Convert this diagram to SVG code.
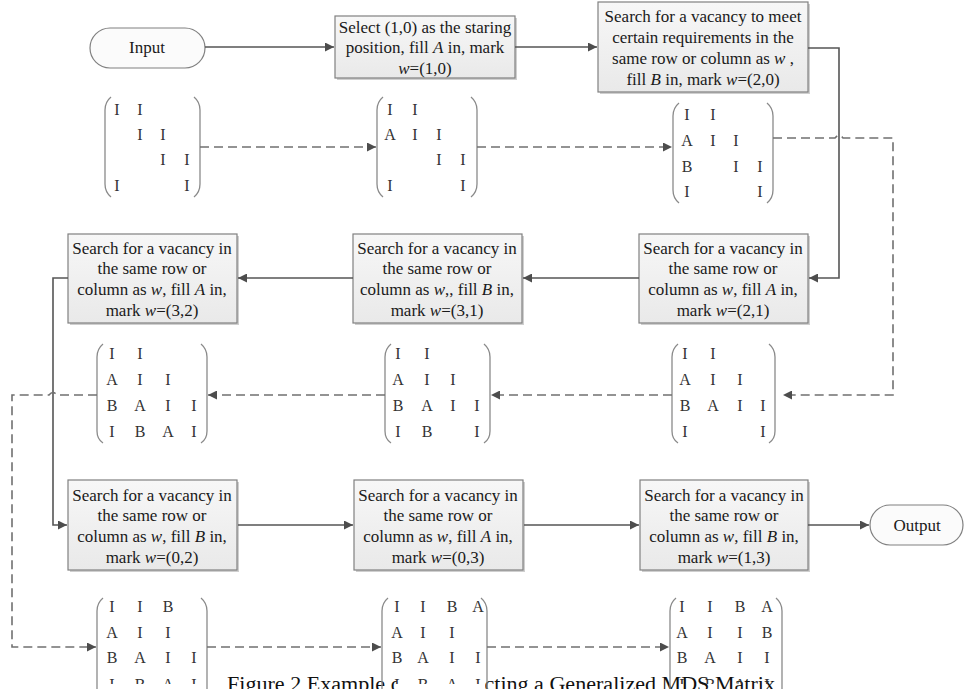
<svg xmlns="http://www.w3.org/2000/svg" width="966" height="689" viewBox="0 0 966 689">
<defs>
<linearGradient id="boxfill" x1="0" y1="0" x2="0" y2="1">
<stop offset="0" stop-color="#f7f7f7"/><stop offset="1" stop-color="#e9e9e9"/>
</linearGradient>
<marker id="arr" viewBox="0 0 10 10" refX="10" refY="5" markerWidth="11" markerHeight="9" markerUnits="userSpaceOnUse" orient="auto">
<path d="M0,0 L10,5 L0,10 z" fill="#4d4d4d"/>
</marker>
<marker id="arrd" viewBox="0 0 10 10" refX="10" refY="5" markerWidth="11" markerHeight="9" markerUnits="userSpaceOnUse" orient="auto">
<path d="M0,0 L10,5 L0,10 z" fill="#4d4d4d"/>
</marker>
<clipPath id="cut"><rect x="0" y="0" width="966" height="684"/></clipPath>
</defs>
<style>
.box{fill:url(#boxfill);stroke:#808080;stroke-width:1.2}
.shadow{fill:#cfcfcf}
.term{fill:#fbfbfb;stroke:#808080;stroke-width:1.2}
.t{font-family:"Liberation Serif","Times New Roman",serif;font-size:17px;fill:#1a1a1a;text-anchor:middle}
.m{font-family:"Liberation Serif","Times New Roman",serif;font-size:16px;fill:#333;text-anchor:middle}
.br{fill:none;stroke:#8a8a8a;stroke-width:1.3}
.solid{fill:none;stroke:#555;stroke-width:1.6}
.dash{fill:none;stroke:#707070;stroke-width:1.6;stroke-dasharray:9,5}
.i{font-style:italic}
.cap{font-family:"Liberation Serif","Times New Roman",serif;font-size:20px;fill:#111}
</style>
<rect width="966" height="689" fill="#fff"/>

<g id="input">
<rect class="term" x="90" y="28" width="115" height="40" rx="20"/>
<text class="t" x="147" y="53">Input</text>
</g>

<g id="step1">
<rect class="shadow" x="337" y="18" width="180" height="62"/>
<rect class="box" x="335" y="16" width="180" height="62"/>
<text class="t" x="425" y="33">Select (1,0) as the staring</text>
<text class="t" x="425" y="53">position, fill <tspan class="i">A</tspan> in, mark</text>
<text class="t" x="425" y="74"><tspan class="i">w</tspan>=(1,0)</text>
</g>

<g id="step2">
<rect class="shadow" x="600" y="4" width="210" height="90"/>
<rect class="box" x="598" y="2" width="210" height="90"/>
<text class="t" x="703" y="22">Search for a vacancy to meet</text>
<text class="t" x="703" y="43">certain requirements in the</text>
<text class="t" x="703" y="64">same row or column as <tspan class="i">w</tspan> ,</text>
<text class="t" x="703" y="85">fill <tspan class="i">B</tspan> in, mark <tspan class="i">w</tspan>=(2,0)</text>
</g>

<g id="step21">
<rect class="shadow" x="641" y="236" width="169" height="89"/>
<rect class="box" x="639" y="234" width="169" height="89"/>
<text class="t" x="723" y="254">Search for a vacancy in</text>
<text class="t" x="723" y="274">the same row or</text>
<text class="t" x="723" y="295">column as <tspan class="i">w</tspan>, fill <tspan class="i">A</tspan> in,</text>
<text class="t" x="723" y="316">mark <tspan class="i">w</tspan>=(2,1)</text>
</g>

<g id="step31">
<rect class="shadow" x="355" y="236" width="169" height="89"/>
<rect class="box" x="353" y="234" width="169" height="89"/>
<text class="t" x="437" y="254">Search for a vacancy in</text>
<text class="t" x="437" y="274">the same row or</text>
<text class="t" x="437" y="295">column as <tspan class="i">w</tspan>,, fill <tspan class="i">B</tspan> in,</text>
<text class="t" x="437" y="316">mark <tspan class="i">w</tspan>=(3,1)</text>
</g>

<g id="step32">
<rect class="shadow" x="70" y="236" width="169" height="89"/>
<rect class="box" x="68" y="234" width="169" height="89"/>
<text class="t" x="152" y="254">Search for a vacancy in</text>
<text class="t" x="152" y="274">the same row or</text>
<text class="t" x="152" y="295">column as <tspan class="i">w</tspan>, fill <tspan class="i">A</tspan> in,</text>
<text class="t" x="152" y="316">mark  <tspan class="i">w</tspan>=(3,2)</text>
</g>

<g id="step02">
<rect class="shadow" x="70" y="482" width="169" height="90"/>
<rect class="box" x="68" y="480" width="169" height="90"/>
<text class="t" x="152" y="501">Search for a vacancy in</text>
<text class="t" x="152" y="521">the same row or</text>
<text class="t" x="152" y="542">column as <tspan class="i">w</tspan>, fill <tspan class="i">B</tspan> in,</text>
<text class="t" x="152" y="563">mark <tspan class="i">w</tspan>=(0,2)</text>
</g>

<g id="step03">
<rect class="shadow" x="356" y="482" width="169" height="90"/>
<rect class="box" x="354" y="480" width="169" height="90"/>
<text class="t" x="438" y="501">Search for a vacancy in</text>
<text class="t" x="438" y="521">the same row or</text>
<text class="t" x="438" y="542">column as <tspan class="i">w</tspan>, fill <tspan class="i">A</tspan> in,</text>
<text class="t" x="438" y="563">mark  <tspan class="i">w</tspan>=(0,3)</text>
</g>

<g id="step13">
<rect class="shadow" x="642" y="482" width="168" height="90"/>
<rect class="box" x="640" y="480" width="168" height="90"/>
<text class="t" x="724" y="501">Search for a vacancy in</text>
<text class="t" x="724" y="521">the same row or</text>
<text class="t" x="724" y="542">column as <tspan class="i">w</tspan>, fill <tspan class="i">B</tspan> in,</text>
<text class="t" x="724" y="563">mark <tspan class="i">w</tspan>=(1,3)</text>
</g>

<g id="output">
<rect class="term" x="870" y="505" width="93" height="40" rx="20"/>
<text class="t" x="917" y="531">Output</text>
</g>

<g id="matrix1">
<path class="br" d="M111,97 Q105,102 105,110 V184 Q105,192 111,197"/>
<path class="br" d="M194,97 Q200,102 200,110 V184 Q200,192 194,197"/>
<text class="m" x="117" y="115">I</text><text class="m" x="140" y="115">I</text>
<text class="m" x="140" y="140">I</text><text class="m" x="163" y="140">I</text>
<text class="m" x="163" y="165">I</text><text class="m" x="187" y="165">I</text>
<text class="m" x="117" y="191">I</text><text class="m" x="187" y="191">I</text>
</g>

<g id="matrix2">
<path class="br" d="M383,97 Q377,102 377,110 V184 Q377,192 383,197"/>
<path class="br" d="M471,97 Q477,102 477,110 V184 Q477,192 471,197"/>
<text class="m" x="390" y="115">I</text><text class="m" x="415" y="115">I</text>
<text class="m" x="390" y="140">A</text><text class="m" x="415" y="140">I</text><text class="m" x="439" y="140">I</text>
<text class="m" x="439" y="165">I</text><text class="m" x="463" y="165">I</text>
<text class="m" x="390" y="191">I</text><text class="m" x="463" y="191">I</text>
</g>

<g id="matrix3">
<path class="br" d="M679,103 Q673,108 673,116 V190 Q673,198 679,203"/>
<path class="br" d="M767,103 Q773,108 773,116 V190 Q773,198 767,203"/>
<text class="m" x="687" y="120">I</text><text class="m" x="713" y="120">I</text>
<text class="m" x="687" y="146">A</text><text class="m" x="713" y="146">I</text><text class="m" x="736" y="146">I</text>
<text class="m" x="687" y="172">B</text><text class="m" x="736" y="172">I</text><text class="m" x="760" y="172">I</text>
<text class="m" x="687" y="197">I</text><text class="m" x="760" y="197">I</text>
</g>

<g id="matrix4">
<path class="br" d="M678,344 Q672,349 672,357 V431 Q672,439 678,443"/>
<path class="br" d="M769,344 Q775,349 775,357 V431 Q775,439 769,443"/>
<text class="m" x="685" y="359">I</text><text class="m" x="713" y="359">I</text>
<text class="m" x="685" y="385">A</text><text class="m" x="713" y="385">I</text><text class="m" x="740" y="385">I</text>
<text class="m" x="685" y="411">B</text><text class="m" x="713" y="411">A</text><text class="m" x="740" y="411">I</text><text class="m" x="763" y="411">I</text>
<text class="m" x="685" y="437">I</text><text class="m" x="763" y="437">I</text>
</g>

<g id="matrix5">
<path class="br" d="M391,344 Q385,349 385,357 V431 Q385,439 391,443"/>
<path class="br" d="M484,344 Q490,349 490,357 V431 Q490,439 484,443"/>
<text class="m" x="398" y="359">I</text><text class="m" x="427" y="359">I</text>
<text class="m" x="398" y="385">A</text><text class="m" x="427" y="385">I</text><text class="m" x="453" y="385">I</text>
<text class="m" x="398" y="411">B</text><text class="m" x="427" y="411">A</text><text class="m" x="453" y="411">I</text><text class="m" x="477" y="411">I</text>
<text class="m" x="398" y="437">I</text><text class="m" x="427" y="437">B</text><text class="m" x="477" y="437">I</text>
</g>

<g id="matrix6">
<path class="br" d="M103,344 Q97,349 97,357 V431 Q97,439 103,443"/>
<path class="br" d="M201,344 Q207,349 207,357 V431 Q207,439 201,443"/>
<text class="m" x="112" y="359">I</text><text class="m" x="140" y="359">I</text>
<text class="m" x="112" y="385">A</text><text class="m" x="140" y="385">I</text><text class="m" x="168" y="385">I</text>
<text class="m" x="112" y="411">B</text><text class="m" x="140" y="411">A</text><text class="m" x="168" y="411">I</text><text class="m" x="194" y="411">I</text>
<text class="m" x="112" y="437">I</text><text class="m" x="140" y="437">B</text><text class="m" x="168" y="437">A</text><text class="m" x="194" y="437">I</text>
</g>

<g id="caption">
<text class="cap" x="227" y="691" textLength="548" lengthAdjust="spacingAndGlyphs">Figure 2 Example of Constructing a Generalized MDS Matrix</text>
<rect x="397" y="674" width="88" height="15" fill="#fff"/>
</g>

<g id="matrix7">
<path class="br" d="M103,598 Q97,603 97,611 V700"/>
<path class="br" d="M201,598 Q207,603 207,611 V700"/>
<text class="m" x="112" y="612">I</text><text class="m" x="140" y="612">I</text><text class="m" x="168" y="612">B</text>
<text class="m" x="112" y="638">A</text><text class="m" x="140" y="638">I</text><text class="m" x="168" y="638">I</text>
<text class="m" x="112" y="663">B</text><text class="m" x="140" y="663">A</text><text class="m" x="168" y="663">I</text><text class="m" x="194" y="663">I</text>
<g clip-path="url(#cut)"><text class="m" x="112" y="690">I</text><text class="m" x="140" y="690">B</text><text class="m" x="168" y="690">A</text><text class="m" x="194" y="690">I</text></g>
</g>

<g id="matrix8">
<path class="br" d="M388,598 Q382,603 382,611 V700"/>
<path class="br" d="M481,598 Q487,603 487,611 V700"/>
<text class="m" x="397" y="612">I</text><text class="m" x="423" y="612">I</text><text class="m" x="452" y="612">B</text><text class="m" x="478" y="612">A</text>
<text class="m" x="397" y="638">A</text><text class="m" x="423" y="638">I</text><text class="m" x="452" y="638">I</text>
<text class="m" x="397" y="663">B</text><text class="m" x="423" y="663">A</text><text class="m" x="452" y="663">I</text><text class="m" x="478" y="663">I</text>
<g clip-path="url(#cut)"><text class="m" x="397" y="690">I</text><text class="m" x="423" y="690">B</text><text class="m" x="452" y="690">A</text><text class="m" x="478" y="690">I</text></g>
</g>

<g id="matrix9">
<path class="br" d="M676,598 Q670,603 670,611 V700"/>
<path class="br" d="M776,598 Q782,603 782,611 V700"/>
<text class="m" x="682" y="612">I</text><text class="m" x="710" y="612">I</text><text class="m" x="740" y="612">B</text><text class="m" x="767" y="612">A</text>
<text class="m" x="682" y="638">A</text><text class="m" x="710" y="638">I</text><text class="m" x="740" y="638">I</text><text class="m" x="767" y="638">B</text>
<text class="m" x="682" y="663">B</text><text class="m" x="710" y="663">A</text><text class="m" x="740" y="663">I</text><text class="m" x="767" y="663">I</text>
<g clip-path="url(#cut)"><text class="m" x="682" y="690">I</text><text class="m" x="710" y="690">B</text><text class="m" x="740" y="690">A</text><text class="m" x="767" y="690">I</text></g>
</g>

<g id="connectors">
<path class="solid" d="M205,47 H334" marker-end="url(#arr)"/>
<path class="solid" d="M515,47 H597" marker-end="url(#arr)"/>
<path class="solid" d="M808,48 H839 V278 H809" marker-end="url(#arr)"/>
<path class="solid" d="M639,278 H523" marker-end="url(#arr)"/>
<path class="solid" d="M353,278 H238" marker-end="url(#arr)"/>
<path class="solid" d="M68,278 H53 V525 H67" marker-end="url(#arr)"/>
<path class="solid" d="M238,525 H353" marker-end="url(#arr)"/>
<path class="solid" d="M524,525 H639" marker-end="url(#arr)"/>
<path class="solid" d="M808,525 H869" marker-end="url(#arr)"/>
<path class="dash" d="M200,147 H376" marker-end="url(#arrd)"/>
<path class="dash" d="M477,147 H672" marker-end="url(#arrd)"/>
<path class="dash" d="M773,138 H835 Q839,133 843,138 H893 V395 H783" marker-end="url(#arrd)"/>
<path class="dash" d="M672,395 H491" marker-end="url(#arrd)"/>
<path class="dash" d="M385,395 H208" marker-end="url(#arrd)"/>
<path class="dash" d="M97,395 H57 Q53,390 49,395 H12 V647 H96" marker-end="url(#arrd)"/>
<path class="dash" d="M207,647 H381" marker-end="url(#arrd)"/>
<path class="dash" d="M487,647 H669" marker-end="url(#arrd)"/>
</g>
</svg>
